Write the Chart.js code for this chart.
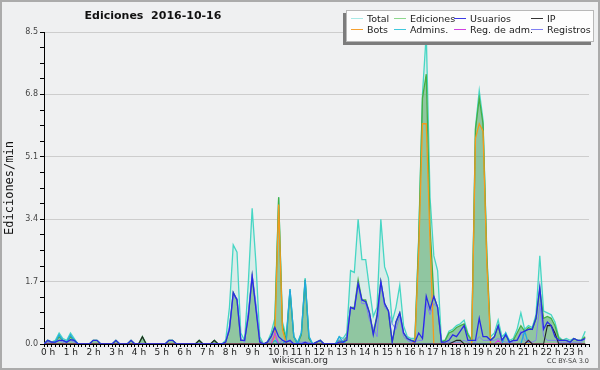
<!DOCTYPE html>
<html>
<head>
<meta charset="utf-8">
<script src="https://cdn.jsdelivr.net/npm/chart.js@4.4.1/dist/chart.umd.min.js"></script>
<style>
  body { margin: 0; background: #fff; }
  #wrap { position: relative; width: 600px; height: 370px; background: #eff0f1; font-family: "DejaVu Sans", sans-serif; overflow: hidden; }
  #frame { position: absolute; left: 0; top: 0; width: 600px; height: 370px; box-sizing: border-box; border: 2px solid #ababab; pointer-events: none; }
  #title { position: absolute; left: 53px; top: 9px; width: 200px; text-align: center; font-weight: bold; font-size: 11px; color: #111; white-space: pre; }
  #legend { position: absolute; left: 346px; top: 10px; width: 246px; height: 30px; background: #fdfdfd; border: 1px solid #b8b8b8; box-shadow: -3px 3px 0 #7c7c7c; }
  .item { position: absolute; display: flex; align-items: center; height: 11px; font-size: 9.5px; color: #222; white-space: nowrap; }
  .sw { display: inline-block; width: 12px; height: 1px; margin-right: 4px; }
  #site { position: absolute; left: 250px; width: 100px; top: 355px; text-align: center; font-size: 9px; color: #333; }
  #cc { position: absolute; right: 11px; top: 357px; font-size: 6.5px; color: #444; }
</style>
</head>
<body>
<div id="wrap">
  <canvas id="chart" width="600" height="370"></canvas>
  <div id="title">Ediciones  2016-10-16</div>
  <div id="legend"></div>
  <div id="site">wikiscan.org</div>
  <div id="cc">CC BY-SA 3.0</div>
  <div id="frame"></div>
</div>
<script>
// one value every 10 minutes, 6 per hour (rows = hours 0..23)
const hourLabels = ['0 h','1 h','2 h','3 h','4 h','5 h','6 h','7 h','8 h','9 h','10 h','11 h',
  '12 h','13 h','14 h','15 h','16 h','17 h','18 h','19 h','20 h','21 h','22 h','23 h']
const yTickLabels = ['0.0', '1.7', '3.4', '5.1', '6.8', '8.5']

const total = [
  0, 0.1, 0.05, 0.1, 0.3, 0.15,
  0.1, 0.3, 0.15, 0, 0, 0,
  0, 0.1, 0.1, 0, 0, 0,
  0, 0.1, 0, 0, 0, 0.1,
  0, 0, 0.2, 0, 0, 0,
  0, 0, 0, 0.1, 0.1, 0,
  0, 0, 0, 0, 0, 0.1,
  0, 0, 0, 0.1, 0, 0,
  0.1, 1.0, 2.7, 2.5, 0.3, 0.1,
  1.7, 3.7, 2.2, 0.2, 0, 0.05,
  0.3, 0.7, 4.0, 0.6, 0.2, 1.5,
  0.2, 0.05, 0.3, 1.8, 0.2, 0,
  0.05, 0.1, 0, 0, 0, 0,
  0.2, 0.15, 0.3, 2.0, 1.95, 3.4,
  2.3, 2.3, 1.5, 0.75, 1.0, 3.4,
  2.1, 1.8, 0.6, 1.0, 1.6, 0.5,
  0.2, 0.15, 0.15, 2.9, 6.8, 8.45,
  4.0, 2.4, 2.0, 0.1, 0.1, 0.35,
  0.4, 0.5, 0.55, 0.65, 0.3, 0.1,
  5.9, 6.9, 6.1, 2.5, 0.2, 0.3,
  0.65, 0.2, 0.3, 0.1, 0.15, 0.4,
  0.85, 0.4, 0.5, 0.45, 0.8, 2.4,
  0.9, 0.85, 0.8, 0.6, 0.2, 0.1,
  0.15, 0.1, 0.15, 0.1, 0.1, 0.35
]

const ediciones = [
  0, 0.1, 0.05, 0.05, 0.2, 0.1,
  0.05, 0.2, 0.1, 0, 0, 0,
  0, 0.1, 0.1, 0, 0, 0,
  0, 0.1, 0, 0, 0, 0.1,
  0, 0, 0.2, 0, 0, 0,
  0, 0, 0, 0.1, 0.1, 0,
  0, 0, 0, 0, 0, 0.1,
  0, 0, 0, 0.1, 0, 0,
  0.05, 0.4, 1.4, 1.2, 0.1, 0.1,
  0.8, 1.85, 1.0, 0.1, 0, 0.05,
  0.2, 0.5, 4.0, 0.5, 0.1, 1.45,
  0.2, 0, 0.25, 1.75, 0.15, 0,
  0.05, 0.1, 0, 0, 0, 0,
  0.1, 0.05, 0.2, 1.0, 1.0, 1.75,
  1.2, 1.2, 0.85, 0.3, 0.8, 1.7,
  1.1, 0.9, 0.05, 0.6, 0.85, 0.3,
  0.15, 0.1, 0.1, 2.8, 6.7, 7.35,
  3.2, 1.3, 1.0, 0.05, 0.1, 0.3,
  0.35, 0.45, 0.5, 0.55, 0.25, 0.1,
  5.85, 6.7, 6.0, 2.4, 0.1, 0.2,
  0.5, 0.1, 0.25, 0.05, 0.1, 0.3,
  0.5, 0.35, 0.45, 0.4, 0.7, 1.5,
  0.7, 0.75, 0.7, 0.5, 0.15, 0.1,
  0.1, 0.05, 0.15, 0.1, 0.1, 0.2
]

const usuarios = [
  0, 0.1, 0.05, 0.05, 0.1, 0.1,
  0.05, 0.12, 0.1, 0, 0, 0,
  0, 0.1, 0.1, 0, 0, 0,
  0, 0.1, 0, 0, 0, 0.1,
  0, 0, 0, 0, 0, 0,
  0, 0, 0, 0.1, 0.1, 0,
  0, 0, 0, 0, 0, 0,
  0, 0, 0, 0, 0, 0,
  0.05, 0.4, 1.4, 1.2, 0.1, 0.1,
  0.75, 1.85, 0.95, 0.05, 0, 0.05,
  0.2, 0.45, 0.2, 0.1, 0.05, 0.1,
  0, 0, 0, 0.05, 0, 0,
  0.05, 0.1, 0, 0, 0, 0,
  0.05, 0.05, 0.1, 1.0, 0.95, 1.65,
  1.2, 1.15, 0.85, 0.25, 0.75, 1.7,
  1.1, 0.9, 0.05, 0.6, 0.85, 0.3,
  0.15, 0.1, 0.05, 0.3, 0.15, 1.3,
  0.95, 1.3, 1.0, 0.05, 0.05, 0.1,
  0.25, 0.2, 0.35, 0.5, 0.1, 0.1,
  0.1, 0.7, 0.2, 0.2, 0.1, 0.2,
  0.5, 0.1, 0.25, 0.05, 0.1, 0.1,
  0.3, 0.35, 0.4, 0.4, 0.7, 1.55,
  0.4, 0.6, 0.5, 0.2, 0.1, 0.1,
  0.1, 0.05, 0.15, 0.1, 0.1, 0.15
]

const registros = [
  0, 0.05, 0.05, 0.05, 0.1, 0.05,
  0.05, 0.1, 0.05, 0, 0, 0,
  0, 0, 0, 0, 0, 0,
  0, 0, 0, 0, 0, 0,
  0, 0, 0, 0, 0, 0,
  0, 0, 0, 0, 0, 0,
  0, 0, 0, 0, 0, 0,
  0, 0, 0, 0, 0, 0,
  0.05, 0.5, 1.3, 1.25, 0.15, 0.05,
  0.9, 1.9, 1.1, 0.1, 0, 0,
  0.1, 0.2, 0, 0.1, 0.1, 0.05,
  0, 0.05, 0.05, 0.05, 0.05, 0,
  0, 0, 0, 0, 0, 0,
  0.1, 0.1, 0.2, 1.0, 0.95, 1.65,
  1.1, 1.1, 0.65, 0.45, 0.2, 1.7,
  1.0, 0.9, 0.55, 0.4, 0.75, 0.2,
  0.1, 0.05, 0.05, 0.1, 0.1, 1.1,
  0.8, 1.1, 1.0, 0.05, 0, 0.05,
  0.05, 0.05, 0.05, 0.1, 0.05, 0,
  0.05, 0.2, 0.1, 0.1, 0.1, 0.1,
  0.15, 0.1, 0.05, 0.05, 0.05, 0.1,
  0.35, 0.1, 0.05, 0.05, 0.1, 1.1,
  0.2, 0.1, 0.1, 0.1, 0.05, 0.05,
  0.05, 0.05, 0.05, 0.05, 0.05, 0.15
]

const bots = [
  0, 0, 0, 0, 0, 0,  0, 0, 0, 0, 0, 0,  0, 0, 0, 0, 0, 0,  0, 0, 0, 0, 0, 0,
  0, 0, 0, 0, 0, 0,  0, 0, 0, 0, 0, 0,  0, 0, 0, 0, 0, 0,  0, 0, 0, 0, 0, 0,
  0, 0, 0, 0, 0, 0,  0, 0, 0, 0, 0, 0,
  0, 0.2, 3.8, 0.4, 0, 0,
  0, 0, 0, 0, 0, 0,  0, 0, 0, 0, 0, 0,  0, 0, 0, 0, 0, 0,
  0, 0, 0, 0, 0, 0,  0, 0, 0, 0, 0, 0,
  0, 0, 0.05, 2.5, 6.0, 6.0,
  2.8, 0, 0, 0, 0, 0,
  0, 0, 0, 0, 0, 0,
  5.6, 6.0, 5.8, 2.2, 0, 0,
  0, 0, 0, 0, 0, 0,  0, 0, 0, 0, 0, 0,  0, 0, 0, 0, 0, 0,  0, 0, 0, 0, 0, 0
]

const admins = [
  0, 0, 0, 0.05, 0.25, 0.1,
  0.05, 0.25, 0.1, 0, 0, 0,
  0, 0, 0, 0, 0, 0,  0, 0, 0, 0, 0, 0,  0, 0, 0, 0, 0, 0,  0, 0, 0, 0, 0, 0,
  0, 0, 0, 0, 0, 0,  0, 0, 0, 0, 0, 0,  0, 0, 0, 0, 0, 0,  0, 0, 0, 0, 0, 0,
  0, 0.1, 0, 0, 0.1, 1.5,
  0.2, 0, 0.3, 1.75, 0.2, 0,
  0, 0, 0, 0, 0, 0,
  0.2, 0.05, 0, 0, 0, 0,
  0, 0, 0, 0, 0, 0,  0, 0, 0, 0, 0, 0,  0, 0, 0, 0, 0, 0,  0, 0, 0, 0, 0, 0,
  0, 0, 0, 0, 0, 0,  0, 0, 0, 0, 0, 0,
  0, 0, 0.3, 0, 0, 0,
  0, 0.35, 0, 0, 0, 0,
  0, 0, 0, 0, 0, 0,  0, 0, 0, 0, 0, 0
]

const ip = [
  0, 0, 0, 0, 0, 0,  0, 0, 0, 0, 0, 0,  0, 0, 0, 0, 0, 0,  0, 0, 0, 0, 0, 0,
  0, 0, 0.2, 0, 0, 0,
  0, 0, 0, 0, 0, 0,
  0, 0, 0, 0, 0, 0.1,
  0, 0, 0, 0.1, 0, 0,
  0, 0, 0, 0, 0, 0,  0, 0, 0, 0, 0, 0,  0, 0, 0, 0, 0, 0,  0, 0, 0, 0, 0, 0,
  0, 0, 0, 0, 0, 0,  0, 0, 0, 0, 0, 0,  0, 0, 0, 0, 0, 0,  0, 0, 0, 0, 0, 0,
  0, 0, 0, 0, 0, 0,  0, 0, 0, 0, 0, 0,
  0.05, 0.1, 0.1, 0, 0, 0,
  0, 0, 0, 0, 0, 0,
  0, 0, 0, 0, 0, 0,
  0, 0, 0.1, 0, 0, 0,
  0, 0.5, 0.5, 0.3, 0, 0,
  0, 0, 0, 0, 0, 0
]

const regAdm = [
  0, 0, 0, 0, 0, 0,  0, 0, 0, 0, 0, 0,  0, 0, 0, 0, 0, 0,  0, 0, 0, 0, 0, 0,
  0, 0, 0, 0, 0, 0,  0, 0, 0, 0, 0, 0,  0, 0, 0, 0, 0, 0,  0, 0, 0, 0, 0, 0,
  0, 0, 0, 0, 0, 0,  0, 0, 0, 0, 0, 0,
  0, 0.3, 0, 0, 0, 0,
  0, 0, 0, 0, 0, 0,  0, 0, 0, 0, 0, 0,  0, 0, 0, 0, 0, 0,  0, 0, 0, 0, 0, 0,
  0, 0, 0, 0, 0, 0,  0, 0, 0, 0, 0, 0,  0, 0, 0, 0, 0, 0,  0, 0, 0, 0, 0, 0,
  0, 0, 0, 0, 0, 0,
  0.1, 0, 0, 0, 0, 0,
  0, 0, 0.1, 0, 0, 0,
  0, 0, 0, 0, 0, 0,  0, 0, 0, 0, 0, 0
]

// legend entries (drawn as html box on top of the plot)
const legendItems = [
  { label: 'Total', color: '#a9e9e6', x: 4, y: 2 },
  { label: 'Ediciones', color: '#8ed88e', x: 47, y: 2 },
  { label: 'Usuarios', color: '#3a3ae6', x: 107, y: 2 },
  { label: 'IP', color: '#333333', x: 184, y: 2 },
  { label: 'Bots', color: '#f5a030', x: 4, y: 13 },
  { label: 'Admins.', color: '#40c8dc', x: 47, y: 13 },
  { label: 'Reg. de adm.', color: '#d040e0', x: 107, y: 13 },
  { label: 'Registros', color: '#7f7ff2', x: 184, y: 13 }
]

const legend = document.getElementById('legend')
for (const it of legendItems) {
  const d = document.createElement('div')
  d.className = 'item'
  d.style.left = it.x + 'px'
  d.style.top = it.y + 'px'
  d.innerHTML = '<span class="sw" style="background:' + it.color + '"></span>' + it.label
  legend.appendChild(d)
}

function pts(arr) {
  return arr.map((v, i) => ({ x: i / 6, y: v }))
}

function line(label, arr, color, width, order, fill) {
  return {
    label: label,
    data: pts(arr),
    borderColor: color,
    borderWidth: width,
    backgroundColor: fill || 'transparent',
    fill: fill ? 'origin' : false,
    pointRadius: 0,
    tension: 0,
    order: order
  }
}

const datasets = [
  line('Usuarios', usuarios, '#2a2ae6', 1.3, 1),
  line('IP', ip, '#222222', 1.1, 2),
  line('Reg. de adm.', regAdm, '#d040e0', 1.1, 3),
  line('Bots', bots, '#f59a1c', 1.3, 4),
  line('Admins.', admins, '#22a8e0', 1.3, 5),
  line('Registros', registros, '#7f7ff2', 1.0, 6),
  line('Ediciones', ediciones, '#44b044', 1.3, 7, 'rgba(70,160,90,0.5)'),
  line('Total', total, '#46d6c4', 1.3, 8, 'rgba(120,220,200,0.18)')
]

const ctx = document.getElementById('chart').getContext('2d')

new Chart(ctx, {
  type: 'line',
  data: { datasets: datasets },
  options: {
    responsive: false,
    animation: false,
    devicePixelRatio: 1,
    layout: { padding: { top: 32, right: 11, left: 0, bottom: 0 } },
    plugins: {
      legend: { display: false },
      tooltip: { enabled: false }
    },
    scales: {
      x: {
        type: 'linear',
        min: 0,
        max: 24,
        afterBuildTicks: axis => {
          axis.ticks = Array.from({ length: 145 }, (_, k) => ({ value: k / 6 }))
        },
        afterFit: axis => { axis.height = 26 },
        ticks: {
          autoSkip: false,
          maxRotation: 0,
          minRotation: 0,
          align: 'start',
          labelOffset: -3,
          padding: 0,
          color: '#222',
          font: { family: 'DejaVu Sans', size: 9 },
          callback: (v, i) => (i % 6 === 0 && i < 144) ? hourLabels[i / 6] : ''
        },
        grid: { drawOnChartArea: false, tickLength: 3, tickColor: '#000', color: '#000' },
        border: { color: '#000', width: 1 }
      },
      y: {
        type: 'linear',
        min: 0,
        max: 8.5,
        afterBuildTicks: axis => {
          axis.ticks = Array.from({ length: 21 }, (_, k) => ({ value: k * 0.425 }))
        },
        afterFit: axis => { axis.width = 44 },
        ticks: {
          padding: 2,
          color: '#444',
          font: { family: 'DejaVu Sans', size: 8 },
          callback: (v, i) => i % 4 === 0 ? yTickLabels[i / 4] : ''
        },
        grid: {
          tickLength: 4,
          tickColor: '#000',
          color: c => (c.index % 4 === 0 && c.index > 0) ? '#cdcdcd' : 'rgba(0,0,0,0)'
        },
        border: { color: '#000', width: 1 },
        title: {
          display: true,
          text: 'Ediciones/min',
          color: '#111',
          padding: { top: 3, bottom: 0 },
          font: { family: 'DejaVu Sans Mono', size: 12 }
        }
      }
    }
  }
})
</script>
</body>
</html>
